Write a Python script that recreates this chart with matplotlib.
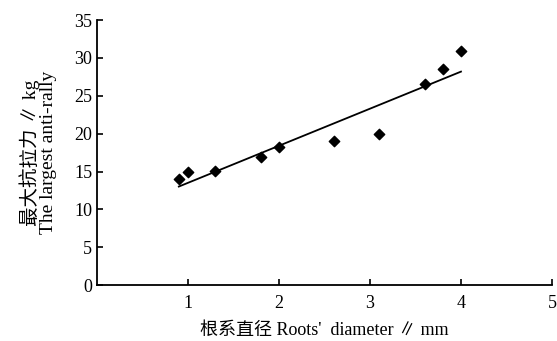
import numpy as np
import matplotlib
matplotlib.use("Agg")
import matplotlib.pyplot as plt

diameter = [0.9, 1.0, 1.3, 1.8, 2.0, 2.6, 3.1, 3.6, 3.8, 4.0]
force = [14.0, 15.0, 15.1, 16.9, 18.2, 19.0, 20.0, 26.5, 28.5, 30.9]
xticks = [1, 2, 3, 4, 5]
yticks = [0, 5, 10, 15, 20, 25, 30, 35]

fam = ['Liberation Serif', 'Noto Sans CJK SC']
plt.rcParams['font.family'] = fam

fig = plt.figure(figsize=(5.57, 3.41), dpi=100)
ax = fig.add_axes([0.174, 0.164, 0.817, 0.777])

ax.scatter(diameter, force, marker='D', s=28, color='black', zorder=3)
k, b = np.polyfit(diameter, force, 1)
xs = np.array([min(diameter), max(diameter)])
ax.plot(xs, k * xs + b, color='black', lw=1.3)

ax.set_xlim(0, 5)
ax.set_ylim(0, 35)
ax.set_xticks(xticks)
ax.set_yticks(yticks)
for s in ['top', 'right']:
    ax.spines[s].set_visible(False)
for s in ['left', 'bottom']:
    ax.spines[s].set_linewidth(1.3)
ax.tick_params(direction='in', length=4, width=1.2, labelsize=13)
ax.tick_params(axis='x', pad=7)

ax.set_xlabel("根系直径 Roots'  diameter ∥ mm", fontsize=13, family=fam, labelpad=7)
ax.set_ylabel("最大抗拉力 ∥ kg\nThe largest anti-rally", fontsize=14, family=fam,
              labelpad=12, linespacing=1.0)

fig.savefig("out.png", dpi=100)
